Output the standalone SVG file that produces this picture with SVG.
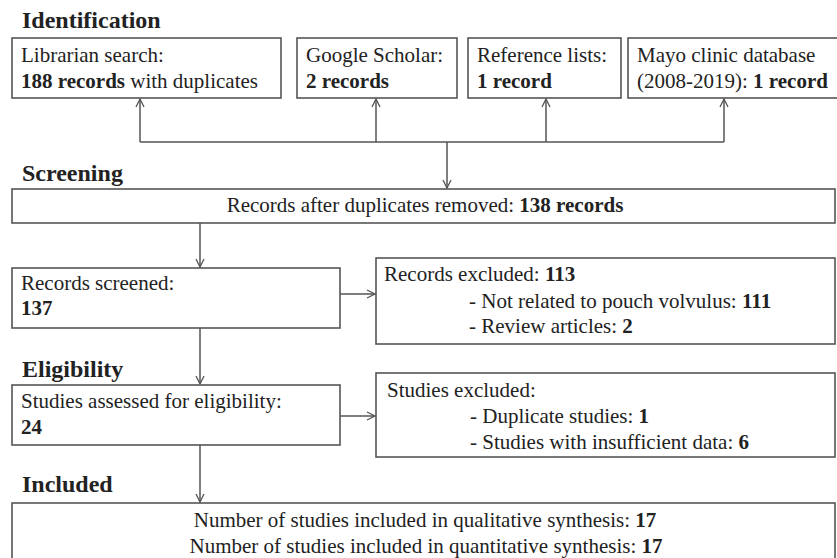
<svg xmlns="http://www.w3.org/2000/svg" width="837" height="558" viewBox="0 0 837 558">
<defs>
<marker id="arr" viewBox="0 0 10 10" refX="9" refY="5" markerWidth="10" markerHeight="10" markerUnits="userSpaceOnUse" orient="auto">
<path d="M1,1 L9,5 L1,9" fill="none" stroke="#555" stroke-width="1.3"/>
</marker>
<style>
.box{fill:#fff;stroke:#555;stroke-width:1.6}
.t{font-family:"Liberation Serif","Times New Roman",serif;font-size:21px;fill:#222}
.h{font-family:"Liberation Serif","Times New Roman",serif;font-size:24px;font-weight:bold;fill:#222}
.b{font-weight:bold}
.c{fill:none;stroke:#555;stroke-width:1.5}
</style>
</defs>
<rect width="837" height="558" fill="#fff"/>
<text class="h" x="22" y="28">Identification</text>
<text class="h" x="22" y="181">Screening</text>
<text class="h" x="22" y="377">Eligibility</text>
<text class="h" x="22" y="492">Included</text>

<g id="librarian">
<rect class="box" x="12" y="38" width="269" height="60"/>
<text class="t" x="21" y="62">Librarian search:</text>
<text class="t" x="21" y="88"><tspan class="b">188 records</tspan> with duplicates</text>
</g>
<g id="scholar">
<rect class="box" x="297" y="38" width="160" height="60"/>
<text class="t" x="306" y="62">Google Scholar:</text>
<text class="t b" x="306" y="88">2 records</text>
</g>
<g id="reflists">
<rect class="box" x="468" y="38" width="153" height="60"/>
<text class="t" x="477" y="62">Reference lists:</text>
<text class="t b" x="477" y="88">1 record</text>
</g>
<g id="mayo">
<rect class="box" x="628" y="38" width="215" height="60"/>
<text class="t" x="637" y="62">Mayo clinic database</text>
<text class="t" x="637" y="88">(2008-2019): <tspan class="b">1 record</tspan></text>
</g>
<g id="dedup">
<rect class="box" x="12" y="189" width="823" height="34"/>
<text class="t" x="425" y="212" text-anchor="middle">Records after duplicates removed: <tspan class="b">138 records</tspan></text>
</g>
<g id="screened">
<rect class="box" x="12" y="268" width="328" height="60"/>
<text class="t" x="21" y="290">Records screened:</text>
<text class="t b" x="21" y="315">137</text>
</g>
<g id="recexcluded">
<rect class="box" x="376" y="258" width="459" height="86"/>
<text class="t" x="384" y="281">Records excluded: <tspan class="b">113</tspan></text>
<text class="t" x="469" y="308">- Not related to pouch volvulus: <tspan class="b">111</tspan></text>
<text class="t" x="469" y="333">- Review articles: <tspan class="b">2</tspan></text>
</g>
<g id="assessed">
<rect class="box" x="12" y="385" width="328" height="60"/>
<text class="t" x="21" y="408">Studies assessed for eligibility:</text>
<text class="t b" x="21" y="434">24</text>
</g>
<g id="studexcluded">
<rect class="box" x="376" y="373" width="459" height="84"/>
<text class="t" x="387" y="397">Studies excluded:</text>
<text class="t" x="470" y="423">- Duplicate studies: <tspan class="b">1</tspan></text>
<text class="t" x="470" y="449">- Studies with insufficient data: <tspan class="b">6</tspan></text>
</g>
<g id="included">
<rect class="box" x="12" y="503" width="823" height="60"/>
<text class="t" x="425" y="527" text-anchor="middle">Number of studies included in qualitative synthesis: <tspan class="b">17</tspan></text>
<text class="t" x="426" y="553" text-anchor="middle">Number of studies included in quantitative synthesis: <tspan class="b">17</tspan></text>
</g>

<g id="connectors">
<path class="c" d="M140,142 H724"/>
<path class="c" d="M140,142 V99" marker-end="url(#arr)"/>
<path class="c" d="M376,142 V99" marker-end="url(#arr)"/>
<path class="c" d="M546,142 V99" marker-end="url(#arr)"/>
<path class="c" d="M724,142 V99" marker-end="url(#arr)"/>
<path class="c" d="M447,142 V188" marker-end="url(#arr)"/>
<path class="c" d="M200,223 V267" marker-end="url(#arr)"/>
<path class="c" d="M340,294 H375" marker-end="url(#arr)"/>
<path class="c" d="M200,328 V384" marker-end="url(#arr)"/>
<path class="c" d="M340,416 H375" marker-end="url(#arr)"/>
<path class="c" d="M200,445 V502" marker-end="url(#arr)"/>
</g>
</svg>
